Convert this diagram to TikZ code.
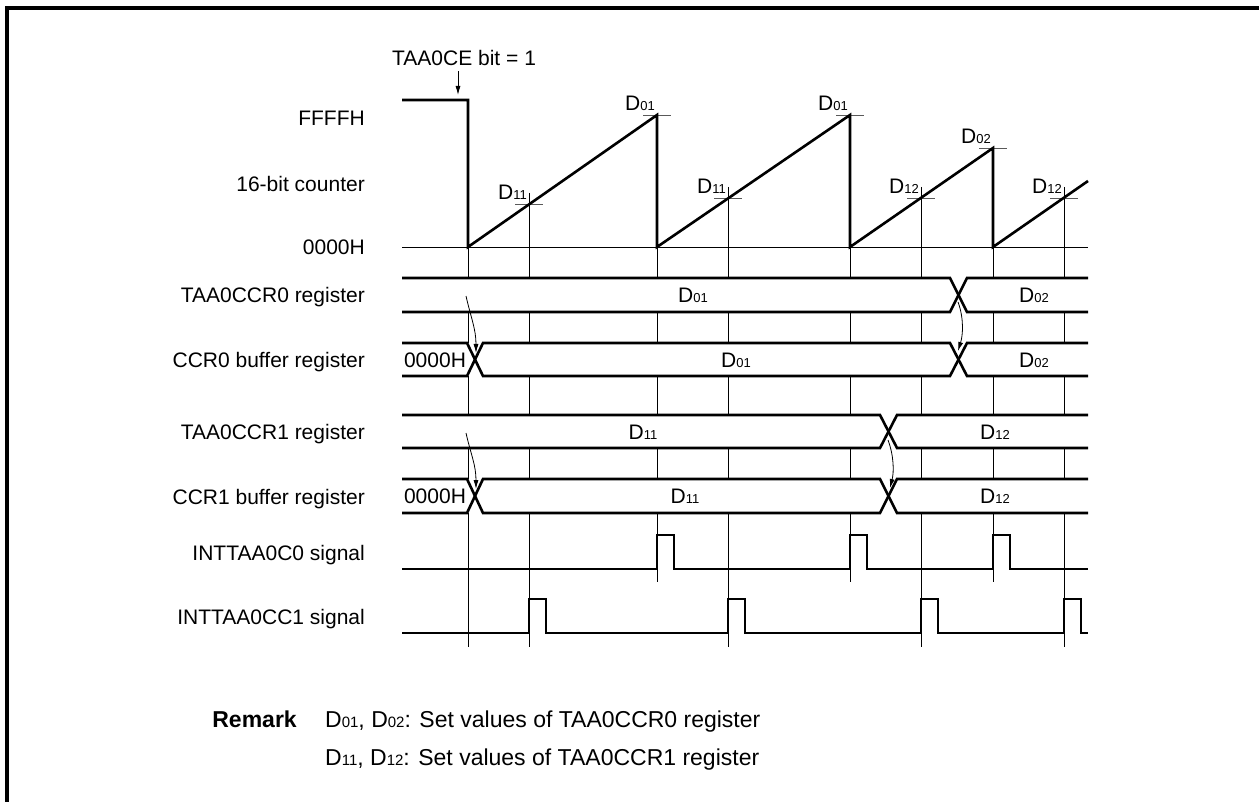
\documentclass[tikz,border=0pt]{standalone}
\usepackage{fontspec}
\setmainfont{Liberation Sans}
\usepackage{tikz}
\usetikzlibrary{arrows.meta}
\newcommand{\dsub}[1]{{\fontsize{13}{13}\selectfont#1}}
\newcommand{\rsub}[1]{{\fontsize{15}{15}\selectfont#1}}

\begin{document}
\begin{tikzpicture}[
  x=1pt, y=-1pt,
  font=\fontsize{21}{25}\selectfont,
  wave/.style={line width=2.6pt},
  guide/.style={line width=0.9pt},
  tickmark/.style={line width=0.9pt, black!65},
  rowlabel/.style={anchor=base east, inner sep=0pt},
  buslabel/.style={anchor=base, inner sep=0pt},
  peaklabel/.style={anchor=south east, inner sep=1pt},
  remark/.style={inner sep=0pt, font=\fontsize{23}{27}\selectfont},
  hop/.style={line width=0.8pt, -{Latex[length=9pt,width=5pt]}}
]
  \useasboundingbox (0,0) rectangle (1259,802);
  \draw[line width=4pt] (7,802) -- (7,8) -- (1259,8);

  \node[anchor=base west, inner sep=0pt] (ceText) at (392,66) {TAA0CE bit = 1};
  \coordinate (ceTip) at (458,95);
  \draw[hop, shorten <=5pt] (ceText.south -| ceTip) -- (ceTip);

  \node[rowlabel] (lblMax) at (365,125.5) {FFFFH};
  \node[rowlabel] (lblCnt) at (365,191.5) {16-bit counter};
  \node[rowlabel] (lblZero) at (365,254.5) {0000H};
  \node[rowlabel] (lblCcrA) at (365,303) {TAA0CCR0 register};
  \node[rowlabel] (lblBufA) at (365,368) {CCR0 buffer register};
  \node[rowlabel] (lblCcrB) at (365,439) {TAA0CCR1 register};
  \node[rowlabel] (lblBufB) at (365,504) {CCR1 buffer register};
  \node[rowlabel] (lblIntA) at (365,560) {INTTAA0C0 signal};
  \node[rowlabel] (lblIntB) at (365,624) {INTTAA0CC1 signal};

  \foreach \x/\t/\b in {468/247/647, 529/193/647, 657/247/582, 728/187/647,
                        850/247/582, 921/187/647, 993/247/582, 1064/187/647}
    \draw[guide] (\x,\t) -- (\x,\b);
  \draw[guide] (402,247) -- (1088,247);

  \foreach \x/\y/\v [count=\i] in {529/204/11, 657/115/01, 728/198/11, 850/115/01,
                                   921/198/12, 993/148/02, 1064/198/12} {
    \draw[tickmark] (\x-14,\y) -- (\x+14,\y);
    \node[peaklabel] (peak\i) at (\x-1,\y-3) {D\dsub{\v}};
  }

  \draw[wave] (402,100) -- (468,100) -- (468,247) -- (657,115) -- (657,247)
    -- (850,115) -- (850,247) -- (993,148) -- (993,247) -- (1088,181);

  \foreach \t/\b in {278/312, 343/376, 415/448, 479/513}
    \fill[white] (402,\t) rectangle (1088,\b);

  \draw[wave] (402,278) -- (950,278) -- (967,312) -- (1088,312);
  \draw[wave] (402,312) -- (950,312) -- (967,278) -- (1088,278);
  \draw[wave] (402,343) -- (467,343) -- (483,376) -- (950,376) -- (967,343) -- (1088,343);
  \draw[wave] (402,376) -- (467,376) -- (483,343) -- (950,343) -- (967,376) -- (1088,376);
  \draw[wave] (402,415) -- (880,415) -- (897,448) -- (1088,448);
  \draw[wave] (402,448) -- (880,448) -- (897,415) -- (1088,415);
  \draw[wave] (402,479) -- (467,479) -- (483,513) -- (880,513) -- (897,479) -- (1088,479);
  \draw[wave] (402,513) -- (467,513) -- (483,479) -- (880,479) -- (897,513) -- (1088,513);

  \node[buslabel] (ccrAold) at (693,302.5) {D\dsub{01}};
  \node[buslabel] (ccrAnew) at (1034,302.5) {D\dsub{02}};
  \node[buslabel] (bufAinit) at (435,367) {0000H};
  \node[buslabel] (bufAold) at (736,367) {D\dsub{01}};
  \node[buslabel] (bufAnew) at (1034,367) {D\dsub{02}};
  \node[buslabel] (ccrBold) at (643,439) {D\dsub{11}};
  \node[buslabel] (ccrBnew) at (995,439) {D\dsub{12}};
  \node[buslabel] (bufBinit) at (435,503.5) {0000H};
  \node[buslabel] (bufBold) at (685,503.5) {D\dsub{11}};
  \node[buslabel] (bufBnew) at (995,503.5) {D\dsub{12}};

  \draw[wave] (402,569) \foreach \p in {657,850,993} {
    -- (\p,569) -- (\p,535) -- (\p+17,535) -- (\p+17,569)} -- (1088,569);
  \draw[wave] (402,633) \foreach \p in {529,728,921,1064} {
    -- (\p,633) -- (\p,599) -- (\p+17,599) -- (\p+17,633)} -- (1088,633);

  \coordinate (srcA) at (466,296);
  \coordinate (dstA) at (476,353);
  \coordinate (srcB) at (466,433);
  \coordinate (dstB) at (476,489);
  \coordinate (srcC) at (958,302);
  \coordinate (dstC) at (958,351);
  \coordinate (srcD) at (888,440);
  \coordinate (dstD) at (890,488);
  \draw[hop] (srcA) .. controls +(5,22) and +(0,-24) .. (dstA);
  \draw[hop] (srcB) .. controls +(5,22) and +(0,-24) .. (dstB);
  \draw[hop] (srcC) .. controls +(6,16) and +(5,-16) .. (dstC);
  \draw[hop] (srcD) .. controls +(6,16) and +(4,-16) .. (dstD);

  \node[remark, anchor=base east] (remHead) at (297,727) {\textbf{Remark}};
  \node[remark, anchor=base west] (remA) at (325,727)
    {D\rsub{01}, D\rsub{02}: Set values of TAA0CCR0 register};
  \node[remark, anchor=base west] (remB) at (325,765)
    {D\rsub{11}, D\rsub{12}: Set values of TAA0CCR1 register};
\end{tikzpicture}
\end{document}
